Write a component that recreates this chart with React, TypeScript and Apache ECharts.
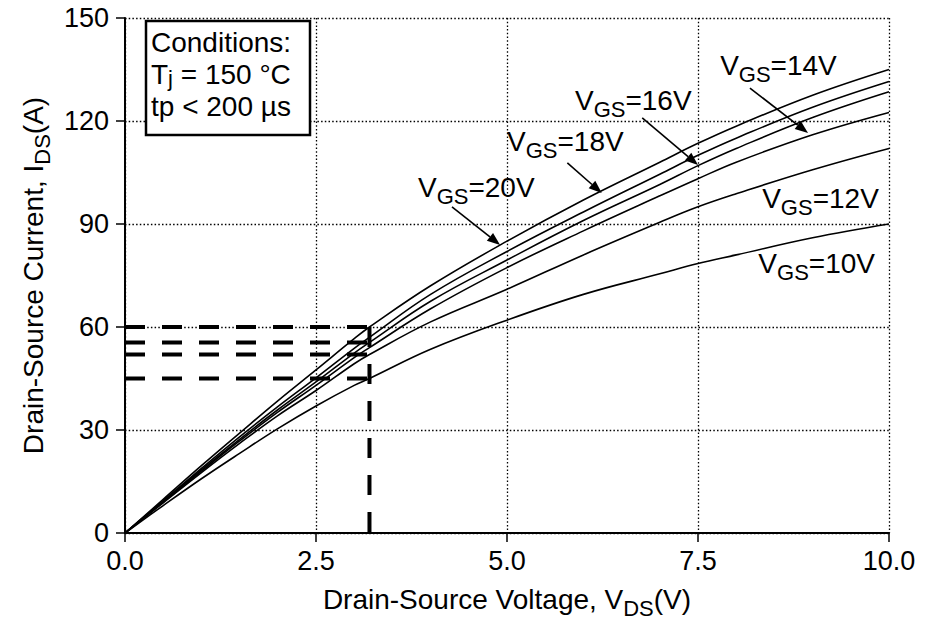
import React, { useEffect, useRef } from 'react';
import * as echarts from 'echarts';

const FONT = '"Liberation Sans", Arial, Helvetica, sans-serif';

// Drain-source voltage sample points (V)
const vds = [0, 0.5, 1, 1.5, 2, 2.5, 3, 3.2, 4, 5, 6, 7, 7.5, 8, 9, 10];

// Drain-source current (A) for each gate voltage, Tj = 150 °C
const ids20 = [0, 9.8, 19.6, 29.1, 38.5, 47.5, 56.6, 60, 72, 85, 97, 108, 113.5, 118.5, 127.5, 135];
const ids18 = [0, 9.4, 18.8, 28, 36.8, 45.2, 53.8, 57, 69.5, 82, 93.5, 104.5, 110, 115, 124, 131.5];
const ids16 = [0, 9.2, 18.4, 27.3, 35.9, 44, 52.4, 55.5, 67.5, 79.5, 91, 101.5, 107, 112, 121, 128.5];
const ids14 = [0, 9, 18, 26.8, 35.2, 43, 51.1, 54, 65.3, 77.3, 88, 98.2, 103.2, 108, 116, 122.5];
const ids12 = [0, 8.8, 17.6, 26.1, 34.2, 41.5, 49.3, 52, 61.5, 71, 81, 90.5, 95, 98.8, 105.8, 112];
const ids10 = [0, 8, 15.8, 23.2, 30.4, 37, 43, 45, 53.5, 62, 69.5, 75.5, 78.5, 81, 86, 90];

const curveSets = [ids20, ids18, ids16, ids14, ids12, ids10];
const gateLabels = ['20V', '18V', '16V', '14V', '12V', '10V'];

// Reading guides at VDS = 3.2 V
const guideV = 3.2;
const guideLevels = [60, 55.5, 52, 45];

// Axis ticks
const xTicks = { min: 0, max: 10, step: 2.5 };
const yTicks = { min: 0, max: 150, step: 30 };

// Annotation anchors in data units: label (left, middle) and arrow start/tip
const labelAnchors: [number, number][] = [
  [3.835, 100.5],
  [5.0, 113.9],
  [5.89, 126.1],
  [7.79, 136.3],
  [8.34, 97.3],
  [8.29, 78.4],
];
const arrowStarts: ([number, number] | null)[] = [
  [4.28, 95],
  [5.79, 107.8],
  [6.77, 120.9],
  [8.18, 129.6],
  null,
  null,
];
const arrowTips: ([number, number] | null)[] = [
  [4.91, 83.9],
  [6.24, 99],
  [7.5, 107.2],
  [8.94, 116.5],
  null,
  null,
];

const richStyles = {
  v: { fontSize: 28, lineHeight: 40, fontFamily: FONT, color: '#000' },
  s: { fontSize: 22, lineHeight: 24, verticalAlign: 'bottom', fontFamily: FONT, color: '#000' },
};

const boxRich = {
  v: { fontSize: 28, lineHeight: 30, fontFamily: FONT, color: '#000' },
  s: { fontSize: 22, lineHeight: 20, verticalAlign: 'bottom', fontFamily: FONT, color: '#000' },
};

export default function App() {
  const ref = useRef<HTMLDivElement>(null);

  useEffect(() => {
    if (!ref.current) return;
    const chart = echarts.init(ref.current, undefined, { renderer: 'svg' });

    const curveSeries = curveSets.map((vals, k) => ({
      name: 'VGS=' + gateLabels[k],
      type: 'line',
      data: vds.map((v, i) => [v, vals[i]]),
      showSymbol: false,
      smooth: 0.4,
      lineStyle: { color: '#000', width: 1.6 },
      z: 3,
    }));

    const dashStyle = { color: '#000', width: 4, type: [20, 17] as number[] };
    const guideSeries = [
      ...guideLevels.map((lvl) => ({
        type: 'line',
        data: [
          [0, lvl],
          [guideV, lvl],
        ],
        showSymbol: false,
        lineStyle: dashStyle,
        z: 4,
      })),
      {
        type: 'line',
        data: [
          [guideV, guideLevels[0]],
          [guideV, 0],
        ],
        showSymbol: false,
        lineStyle: dashStyle,
        z: 4,
      },
    ];

    const axisText = { fontSize: 27, fontFamily: FONT, color: '#000' };
    const gridLine = { show: true, lineStyle: { color: '#000', width: 1.3, type: [1.5, 2.2] as number[] } };

    chart.setOption({
      animation: false,
      backgroundColor: '#fff',
      grid: { left: 125, right: 43, top: 18, bottom: 94, containLabel: false },
      xAxis: {
        type: 'value',
        min: xTicks.min,
        max: xTicks.max,
        interval: xTicks.step,
        axisLine: { show: true, lineStyle: { color: '#000', width: 2 } },
        axisTick: { show: true, inside: false, length: 9, lineStyle: { color: '#000', width: 1.5 } },
        axisLabel: { ...axisText, margin: 14, formatter: (v: number) => v.toFixed(1) },
        splitLine: gridLine,
        name: '{v|Drain-Source Voltage, V}{s|DS}{v|(V)}',
        nameLocation: 'middle',
        nameGap: 46,
        nameTextStyle: { rich: richStyles },
      },
      yAxis: {
        type: 'value',
        min: yTicks.min,
        max: yTicks.max,
        interval: yTicks.step,
        axisLine: { show: true, lineStyle: { color: '#000', width: 2 } },
        axisTick: { show: true, inside: false, length: 9, lineStyle: { color: '#000', width: 1.5 } },
        axisLabel: { ...axisText, margin: 16 },
        splitLine: gridLine,
        name: '{v|Drain-Source Current, I}{s|DS}{v|(A)}',
        nameLocation: 'middle',
        nameGap: 70,
        nameRotate: 90,
        nameTextStyle: { rich: richStyles },
      },
      series: [...curveSeries, ...guideSeries],
    });

    const toPx = (p: [number, number]) =>
      chart.convertToPixel({ xAxisIndex: 0, yAxisIndex: 0 }, p) as number[];

    const graphics: any[] = [];

    // Gate-voltage labels
    gateLabels.forEach((g, k) => {
      const [x, y] = toPx(labelAnchors[k]);
      graphics.push({
        type: 'text',
        x,
        y,
        z: 50,
        style: {
          text: '{v|V}{s|GS}{v|=' + g + '}',
          rich: richStyles,
          align: 'left',
          verticalAlign: 'middle',
        },
      });
    });

    // Arrows from labels to curves
    arrowStarts.forEach((s, k) => {
      const t = arrowTips[k];
      if (!s || !t) return;
      const [x1, y1] = toPx(s);
      const [x2, y2] = toPx(t);
      const dx = x2 - x1;
      const dy = y2 - y1;
      const len = Math.hypot(dx, dy);
      const ux = dx / len;
      const uy = dy / len;
      const headLen = 13;
      const headHalf = 5;
      const bx = x2 - ux * headLen;
      const by = y2 - uy * headLen;
      graphics.push({
        type: 'line',
        z: 50,
        shape: { x1, y1, x2: bx, y2: by },
        style: { stroke: '#000', lineWidth: 1.6 },
      });
      graphics.push({
        type: 'polygon',
        z: 50,
        shape: {
          points: [
            [x2, y2],
            [bx - uy * headHalf, by + ux * headHalf],
            [bx + uy * headHalf, by - ux * headHalf],
          ],
        },
        style: { fill: '#000' },
      });
    });

    // Test conditions box
    graphics.push({
      type: 'rect',
      z: 60,
      shape: { x: 146, y: 21, width: 164, height: 114 },
      style: { fill: '#fff', stroke: '#000', lineWidth: 2.5 },
    });
    const boxLines = ['{v|Conditions:}', '{v|T}{s|j}{v| = 150 °C}', '{v|tp < 200 µs}'];
    boxLines.forEach((t, i) => {
      graphics.push({
        type: 'text',
        z: 61,
        x: 151,
        y: 42 + i * 32,
        style: { text: t, rich: boxRich, align: 'left', verticalAlign: 'middle' },
      });
    });

    chart.setOption({ graphic: graphics });

    return () => chart.dispose();
  }, []);

  return (
    <div
      ref={ref}
      style={{ position: 'fixed', left: 0, top: 0, width: 932, height: 627, background: '#fff' }}
    />
  );
}
